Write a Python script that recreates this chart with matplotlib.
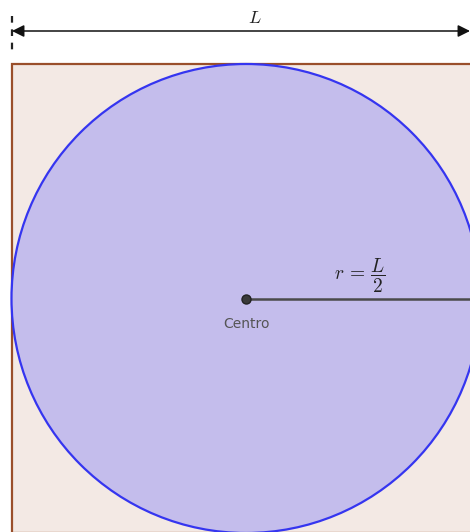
import matplotlib.pyplot as plt
from matplotlib.patches import Rectangle, Circle

plt.rcParams['mathtext.fontset'] = 'cm'

# Geometry (pixel-ish units, y grows downward)
side_L = 469
square_origin = [11.5, 64]
centre = [246, 298.5]
radius = side_L / 2
dim_line_y = 31
dim_line_x = [12, 470]
dash_x = 12
dash_y = [16, 53]

# Labels
dim_label = r"$L$"
radius_label = r"$r\,=\,\dfrac{L}{2}$"
centre_label = "Centro"

fig = plt.figure(figsize=(4.7, 5.32), dpi=100)
ax = fig.add_axes([0, 0, 1, 1])
ax.set_xlim(0, 470)
ax.set_ylim(532, 0)
ax.axis('off')

# square
sq = Rectangle(square_origin, side_L, side_L, facecolor='#f3e9e4',
               edgecolor='#9a4f2b', linewidth=1.6, zorder=1)
ax.add_patch(sq)

# circle
circ = Circle(centre, radius, facecolor='#c4bdec', edgecolor='#3535f0',
              linewidth=1.6, zorder=2)
ax.add_patch(circ)

# radius segment and centre point
ax.plot([centre[0], centre[0] + radius], [centre[1], centre[1]],
        color='#4a4a4a', linewidth=1.8, zorder=3)
ax.plot(centre[0], centre[1], 'o', markersize=6.5, color='#3a3a3a',
        markeredgecolor='#222222', zorder=4)
ax.text(centre[0] + 1, centre[1] + 25, centre_label, fontsize=10,
        color='#555555', ha='center', va='center', zorder=5)
ax.text(centre[0] + 114, centre[1] - 23, radius_label, fontsize=14,
        color='#222222', ha='center', va='center', zorder=5)

# dimension line for L
ax.annotate('', xy=(dim_line_x[1], dim_line_y), xytext=(dim_line_x[0], dim_line_y),
            arrowprops=dict(arrowstyle='<|-|>', color='#111111', lw=1.1,
                            mutation_scale=18, shrinkA=0, shrinkB=0))
ax.plot([dash_x, dash_x], dash_y, color='#222222', linewidth=1.6,
        linestyle=(0, (3, 3)))
ax.text(255, 18, dim_label, fontsize=13, color='#222222', ha='center', va='center')

fig.savefig('out.png', dpi=100)
